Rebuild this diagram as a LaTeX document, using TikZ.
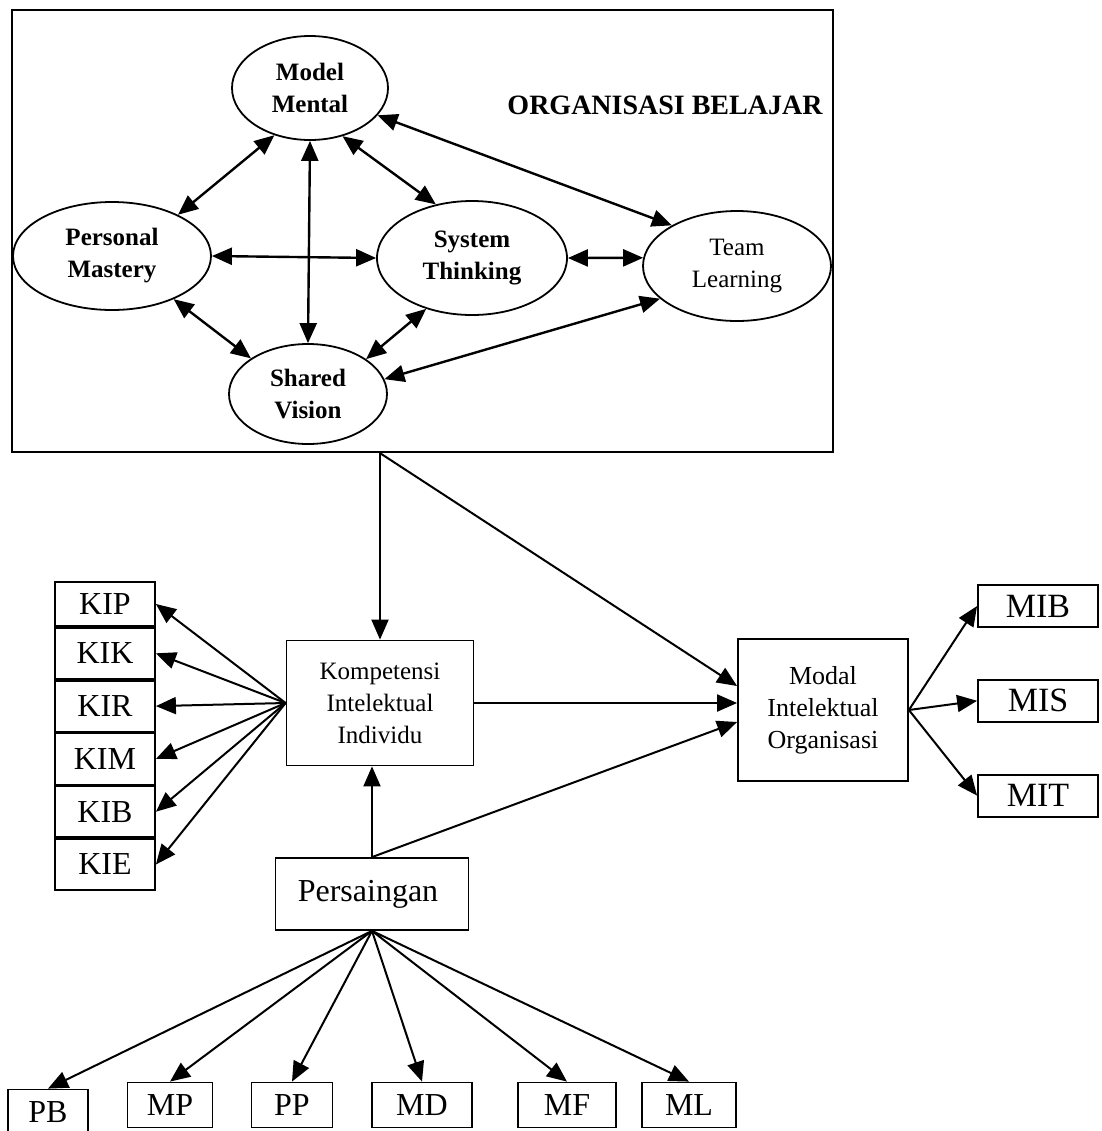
\documentclass[tikz,border=0pt]{standalone}
\usepackage{fontspec}
\setmainfont{Liberation Serif}
\usetikzlibrary{positioning, shapes.geometric, arrows.meta}

\begin{document}
\begin{tikzpicture}[x = 0.5pt, y = -0.5pt,
    >= {Triangle[length = 10pt, width = 8.5pt]},
    disc/.style = { draw, shape = ellipse, line width = 0.9pt, align = center, inner sep = 0pt,
                    font = \bfseries\fontsize{12.5}{16}\selectfont },
    box/.style  = { draw, line width = 0.9pt, align = center, inner sep = 0pt },
    ki/.style   = { box, minimum width = 50pt, minimum height = 25.5pt, font = \fontsize{16}{18}\selectfont },
    mi/.style   = { box, minimum width = 60pt, minimum height = 21pt, font = \fontsize{17}{19}\selectfont },
    foot/.style = { box, minimum height = 22.5pt, font = \fontsize{16}{18}\selectfont },
    link/.style = { <->, line width = 1.2pt },
    flow/.style = { ->, line width = 1pt }]

    \useasboundingbox (0, 0) rectangle (1102, 1131);

    \node [draw, line width = 1.1pt, minimum width = 410.5pt, minimum height = 221pt, inner sep = 0pt]
          (frame) at (422.5, 231) {};
    \node [font = \bfseries\fontsize{14}{16}\selectfont] (title) at (665, 105) {ORGANISASI BELAJAR};

    \node [disc, minimum width = 78pt, minimum height = 52pt] (mm) at (310, 88)  { Model \\ Mental };
    \node [disc, minimum width = 99pt, minimum height = 54pt] (pm) at (112, 256) { Personal \\ Mastery };
    \node [disc, minimum width = 95pt, minimum height = 57pt] (st) at (472, 258) { System \\ Thinking };
    \node [disc, minimum width = 94pt, minimum height = 55pt, font = \fontsize{12.5}{16}\selectfont]
          (tl) at (737, 266) { Team \\ Learning };
    \node [disc, minimum width = 79pt, minimum height = 50pt] (sv) at (308, 394) { Shared \\ Vision };

    \draw [link] (mm.233)   -- (pm.32);
    \draw [link] (mm.south) -- (sv.north);
    \draw [link] (mm.-56)   -- (st.124);
    \draw [link] (mm.-22)   -- (tl.148);
    \draw [link] (pm.east)  -- (st.west);
    \draw [link] (pm.-35)   -- (sv.148);
    \draw [link] (st.228)   -- (sv.31);
    \draw [link] (st.east)  -- (tl.175);
    \draw [link] (tl.203)   -- (sv.11);

    \node [box, minimum width = 93.5pt, minimum height = 62.5pt, font = \fontsize{12.5}{16}\selectfont]
          (komp) at (380, 703) { Kompetensi \\ Intelektual \\ Individu };
    \node [box, minimum width = 85pt, minimum height = 71pt, font = \fontsize{13}{16}\selectfont]
          (modal) at (823, 710) { Modal \\ Intelektual \\ Organisasi };
    \node [box, minimum width = 96.5pt, minimum height = 36pt, font = \fontsize{16}{18}\selectfont]
          (pers) at (372, 894) { Persaingan };

    \node [ki, minimum height = 22pt] (kip) at (105, 604) {KIP};
    \node [ki, below = 0pt of kip] (kik) {KIK};
    \node [ki, below = 0pt of kik] (kir) {KIR};
    \node [ki, below = 0pt of kir] (kim) {KIM};
    \node [ki, below = 0pt of kim] (kib) {KIB};
    \node [ki, below = 0pt of kib] (kie) {KIE};

    \node [mi] (mib) at (1038, 606) {MIB};
    \node [mi, below = 25.5pt of mib] (mis) {MIS};
    \node [mi, below = 25.5pt of mis] (mit) {MIT};

    \node [foot, minimum width = 40pt]   (pb) at (48, 1112)  {PB};
    \node [foot, minimum width = 42.5pt] (mp) at (170, 1105) {MP};
    \node [foot, minimum width = 40.5pt] (pp) at (292, 1105) {PP};
    \node [foot, minimum width = 50pt]   (md) at (422, 1105) {MD};
    \node [foot, minimum width = 49pt]   (mf) at (567, 1105) {MF};
    \node [foot, minimum width = 47pt]   (ml) at (689, 1105) {ML};

    \draw [flow] (frame.south -| komp.north) -- (komp.north);
    \draw [flow] (frame.south -| komp.north) -- ([yshift = 12pt] modal.west);
    \draw [flow] (komp.east) -- (komp.east -| modal.west);
    \draw [flow] (pers.north) -- (pers.north |- komp.south);
    \draw [flow] (pers.north) -- ([yshift = -6pt] modal.west);

    \foreach \k in {kip, kik, kir, kim, kib, kie}
        \draw [flow] (komp.west) -- (\k.east);
    \foreach \m in {mib, mis, mit}
        \draw [flow] (modal.east) -- (\m.west);
    \foreach \p in {pb, mp, pp, md, mf, ml}
        \draw [flow] (pers.south) -- (\p.north);

\end{tikzpicture}
\end{document}
